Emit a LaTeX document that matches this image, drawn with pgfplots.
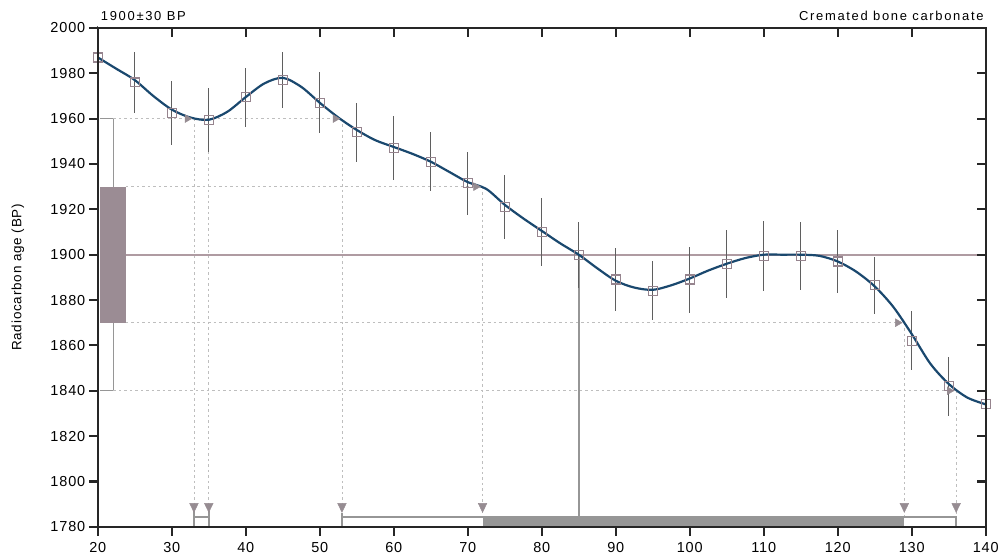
\documentclass[border=0pt]{standalone}
\usepackage{fontspec}
\setmainfont[LetterSpace=6]{Liberation Sans}
\newfontfamily\wide[LetterSpace=13]{Liberation Sans}
\usepackage{pgfplots}
\usepackage{pgfplotstable}
\pgfplotsset{compat=1.18}
\definecolor{curveblue}{RGB}{26,72,110}
\definecolor{sqcol}{RGB}{150,132,142}
\definecolor{errcol}{RGB}{95,95,95}
\definecolor{dashcol}{RGB}{190,190,190}
\definecolor{trcol}{RGB}{150,140,146}
\definecolor{boxfill}{RGB}{155,140,148}
\definecolor{medline}{RGB}{175,155,162}
\definecolor{bargray}{RGB}{150,150,150}

\pgfplotstableread{
x y e
20 1987 14
25 1976 13.5
30 1962.5 14
35 1959.5 14
40 1969.5 13
45 1977 12.5
50 1967 13.5
55 1954 13
60 1947 14
65 1941 13
70 1931.5 14
75 1921 14
80 1910 15
85 1900 14.5
90 1889 14
95 1884 13
100 1889 14.5
105 1896 15
110 1899.5 15.5
115 1899.5 15
120 1897 14
125 1886.5 12.5
130 1862 13
135 1842 13
140 1834 15
}\datapts

\pgfplotstableread{
x y
20 1987
22.5 1982
25 1977
27.5 1970
30 1964
32.5 1960.5
35 1959.5
37.5 1963
40 1969.5
42.5 1975.5
45 1978
47.5 1974
50 1967
52.5 1960.5
55 1955
57.5 1950.5
60 1947.5
62.5 1944.5
65 1941
67.5 1936.5
70 1932
72.5 1929
75 1922
77.5 1916
80 1910.5
82.5 1905
85 1900
87.5 1894
90 1888.5
92.5 1885.5
95 1884.5
97.5 1886.5
100 1889.5
102.5 1893
105 1896
107.5 1898.5
110 1900
112.5 1900
115 1900
117.5 1899.5
120 1897
122.5 1892.5
125 1886
127.5 1877
130 1865
132.5 1852
135 1843
137.5 1837
140 1834
}\curvepts

\begin{document}
\begin{tikzpicture}
\pgfplotsset{
  common/.style={
    scale only axis, width=890pt, height=500pt,
    xmin=20, xmax=140, ymin=1780, ymax=2000,
    xtick={20,30,...,140}, ytick={1780,1800,...,2000},
    axis line style={line width=2pt, black!85},
    major tick length=9pt,
    tick style={line width=2.2pt, black!85},
    clip=false,
  }
}
\begin{axis}[common,
  xtick pos=left, ytick pos=left, tick align=outside,
  /pgf/number format/assume math mode=true,
  /pgf/number format/1000 sep={},
  ticklabel style={font=\fontsize{14.5}{16}\selectfont},
  xticklabel style={yshift=-3pt},
  ylabel={Radiocarbon age (BP)},
  ylabel style={at={(axis description cs:-0.09,0.5)}, anchor=center, font=\fontsize{13.5}{16}\selectfont},
]
% padding of the picture
\path[draw=none] (rel axis cs:0,1) -- ++(-98pt,28pt);
\path[draw=none] (rel axis cs:1,0) -- ++(14pt,-30pt);
% box on the left
\addplot[draw=bargray, line width=1.5pt] coordinates {(20.3,1840) (22.1,1840) (22.1,1960) (20.3,1960)};
\addplot[fill=boxfill, draw=none] coordinates {(20.3,1870) (23.8,1870) (23.8,1930) (20.3,1930)} -- cycle;
% dashed guide lines
\addplot[dashcol, line width=0.9pt, dash pattern=on 2.5pt off 3pt] coordinates {(22.1,1960) (53,1960)};
\addplot[dashcol, line width=0.9pt, dash pattern=on 2.5pt off 3pt] coordinates {(23.8,1930) (72,1930)};
\addplot[dashcol, line width=0.9pt, dash pattern=on 2.5pt off 3pt] coordinates {(23.8,1870) (129,1870)};
\addplot[dashcol, line width=0.9pt, dash pattern=on 2.5pt off 3pt] coordinates {(22.1,1840) (136,1840)};
\addplot[dashcol, line width=0.9pt, dash pattern=on 2.5pt off 3pt] coordinates {(33,1960) (33,1785)};
\addplot[dashcol, line width=0.9pt, dash pattern=on 2.5pt off 3pt] coordinates {(35,1960) (35,1785)};
\addplot[dashcol, line width=0.9pt, dash pattern=on 2.5pt off 3pt] coordinates {(53,1960) (53,1785)};
\addplot[dashcol, line width=0.9pt, dash pattern=on 2.5pt off 3pt] coordinates {(72,1930) (72,1785)};
\addplot[dashcol, line width=0.9pt, dash pattern=on 2.5pt off 3pt] coordinates {(129,1870) (129,1785)};
\addplot[dashcol, line width=0.9pt, dash pattern=on 2.5pt off 3pt] coordinates {(136,1840) (136,1785)};
% 1900 line
\addplot[medline, line width=1.8pt] coordinates {(23.8,1900) (140,1900)};
% median line
\addplot[bargray, line width=1.8pt] coordinates {(85,1900) (85,1780)};
% bottom ranges
\addplot[fill=bargray, draw=none] coordinates {(72,1780) (129,1780) (129,1784.8) (72,1784.8)} -- cycle;
\addplot[bargray, line width=1.5pt] coordinates {(33,1780) (33,1787)};
\addplot[bargray, line width=1.5pt] coordinates {(35,1780) (35,1787)};
\addplot[bargray, line width=1.5pt] coordinates {(33,1784.4) (35,1784.4)};
\addplot[bargray, line width=1.5pt] coordinates {(53,1780) (53,1786) };
\addplot[bargray, line width=1.5pt] coordinates {(53,1784.4) (72,1784.4)};
\addplot[bargray, line width=1.5pt] coordinates {(129,1784.4) (136,1784.4) (136,1780)};
% triangles
\addplot[only marks, mark=triangle*, mark size=5pt, mark options={rotate=180, fill=trcol, draw=trcol, yscale=1.2}]
  coordinates {(33,1789) (35,1789) (53,1789) (72,1789) (129,1789) (136,1789)};
\addplot[only marks, mark=triangle*, mark size=4.5pt, mark options={rotate=-90, fill=trcol, draw=trcol}]
  coordinates {(32.1,1960) (52.1,1960) (71.1,1930) (128.1,1870) (135.1,1840)};
% squares with error bars
\addplot[only marks, mark=square, mark size=4.5pt, mark options={draw=sqcol, line width=1.3pt},
  error bars/.cd, y dir=both, y explicit, error mark=none,
  error bar style={draw=errcol, line width=1.3pt}] table[x=x, y=y, y error=e] {\datapts};
% curve
\addplot[curveblue, line width=2.2pt, smooth, tension=0.5] table[x=x, y=y] {\curvepts};
% squares again on top
\addplot[only marks, mark=square, mark size=4.5pt, mark options={draw=sqcol, line width=1.3pt}] table[x=x, y=y] {\datapts};
\node[anchor=south west, font=\wide\fontsize{13}{15}\selectfont, inner sep=0pt] at (rel axis cs:0,1) [xshift=3pt, yshift=7pt] {1900±30 BP};
\node[anchor=south east, font=\wide\fontsize{13}{15}\selectfont, inner sep=0pt] at (rel axis cs:1,1) [xshift=-2pt, yshift=7pt] {Cremated bone carbonate};
\end{axis}
\begin{axis}[common,
  xtick pos=right, ytick pos=right, tick align=inside,
  xticklabels={}, yticklabels={},
]
\end{axis}
\end{tikzpicture}
\end{document}
